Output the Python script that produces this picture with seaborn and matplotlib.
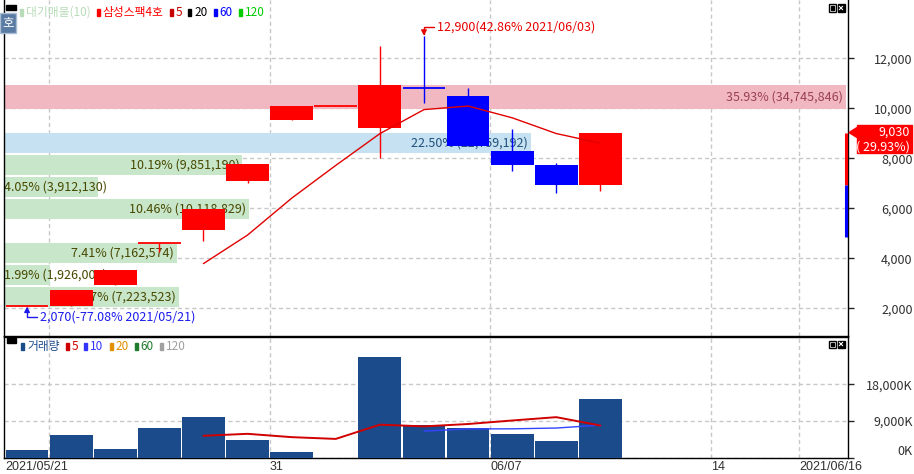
import numpy as np
import pandas as pd
import matplotlib.pyplot as plt
import matplotlib.patches as mpatches
import matplotlib.transforms as mtrans
import seaborn as sns

# 삼성스팩4호 일봉 (가격 단위: 원, 거래량 단위: 천주)
dates = ['2021/05/21', '2021/05/24', '2021/05/25', '2021/05/26', '2021/05/27', '2021/05/28',
         '2021/05/31', '2021/06/01', '2021/06/02', '2021/06/03', '2021/06/04', '2021/06/07',
         '2021/06/08', '2021/06/09']
opens = [2070, 2080, 2950, 4600, 5130, 7090, 9550, 10100, 9200, 10800, 10500, 8300, 7750, 6950]
highs = [2080, 2730, 3540, 4600, 5990, 7790, 10100, 10100, 12480, 12900, 10800, 9160, 7820, 9030]
lows = [2070, 2080, 2950, 4250, 4700, 7000, 9520, 10100, 8000, 10200, 8500, 7480, 6600, 6700]
closes = [2080, 2730, 3540, 4600, 5990, 7790, 10100, 10100, 10950, 10800, 8500, 7750, 6950, 9030]
volume_k = [1920, 5520, 2160, 7200, 10080, 4320, 1440, 0, 24650, 8010, 7200, 5760, 4080, 14400]
limit_down = 4870

# 대기매물 구간
band_low = [2070, 2950, 3830, 5590, 6470, 7350, 8230, 9990]
band_high = [2870, 3750, 4630, 6390, 7270, 8150, 9030, 10930]
band_pct = [7.47, 1.99, 7.41, 10.46, 4.05, 10.19, 22.50, 35.93]
band_vol = [7223523, 1926005, 7162574, 10118829, 3912130, 9851190, 21759192, 34745846]

# x축
tick_slots = [0, 6, 11, 16, 18]
tick_labels = ['2021/05/21', '31', '06/07', '14', '2021/06/16']
grid_slots = [1, 6, 11, 16, 18]

price_ticks = [2000, 4000, 6000, 8000, 10000, 12000]
vol_ticks = [0, 9000, 18000]

top_legend = [('대기매물(10)', '#b8dcb8'), ('삼성스팩4호', '#ff0000'), ('5', '#c80000'),
              ('20', '#000000'), ('60', '#0000ff'), ('120', '#00cc00')]
vol_legend = [('거래량', '#1c4b8c'), ('5', '#d00000'), ('10', '#3333ff'),
              ('20', '#e09000'), ('60', '#1e7c2c'), ('120', '#a0a0a0')]

sns.set_style('white')
plt.rcParams['font.family'] = ['Noto Sans CJK KR', 'DejaVu Sans']

W, H = 914, 474
RED, BLUE = '#ff0000', '#0000ff'
GRID = '#c8c8c8'
LBL = '#303030'


def fx(x):
    return x / W


def fy(y):
    return 1 - y / H


df = pd.DataFrame({'date': dates, 'open': opens, 'high': highs, 'low': lows,
                   'close': closes, 'vol': volume_k})
df['slot'] = np.arange(len(df))
df['ma5'] = df['close'].rolling(5).mean()
df['vma5'] = df['vol'].rolling(5).mean()
df['vma10'] = df['vol'].rolling(10).mean()
prev = df['close'].shift(1)
up = (df['close'] > df['open']) | ((df['close'] == df['open']) & ~(df['close'] < prev))
df['color'] = np.where(up, RED, BLUE)

fig = plt.figure(figsize=(W / 100, H / 100), dpi=100)
ax1 = fig.add_axes([fx(3.5), fy(336), (848 - 3.5) / W, 336 / H])
ax2 = fig.add_axes([fx(3.5), fy(458.3), (848 - 3.5) / W, (458.3 - 336.5) / H])

xl, xr = -0.534, 18.615

# ---- 가격 패널 ----
for s in grid_slots:
    ax1.axvline(s - 0.5, color=GRID, lw=1, ls=(0, (3, 2.2)), zorder=0)
for p in price_ticks:
    ax1.axhline(p, color=GRID, lw=1, ls=(0, (3, 2.2)), zorder=0)

# 대기매물 막대
order = np.argsort(band_pct)[::-1]
full = 19.1
for i in range(len(band_pct)):
    if i == order[0]:
        bc, tc = '#f2b8c2', '#9a4050'
    elif i == order[1]:
        bc, tc = '#c5e1f2', '#20507a'
    else:
        bc, tc = '#c8e6c9', '#474700'
    length = band_pct[i] / max(band_pct) * full
    mid = (band_low[i] + band_high[i]) / 2
    ax1.barh(mid, length, height=band_high[i] - band_low[i], left=xl, color=bc,
             zorder=1, linewidth=0)
    label = f'{band_pct[i]:.2f}% ({band_vol[i]:,})'
    if length * 44.1 < 110:
        ax1.text(xl + 0.02, mid, label, color=tc, fontsize=9, ha='left', va='center', zorder=2)
    else:
        ax1.text(xl + length - 0.07, mid, label, color=tc, fontsize=9, ha='right',
                 va='center', zorder=2)

# 캔들
for _, r in df.iterrows():
    ax1.vlines(r['slot'], r['low'], r['high'], color=r['color'], lw=1, zorder=2.5)
    if abs(r['close'] - r['open']) < 40:
        ax1.hlines(r['close'], r['slot'] - 0.485, r['slot'] + 0.485, color=r['color'],
                   lw=1.3, zorder=3)
    else:
        ax1.bar(r['slot'], abs(r['close'] - r['open']), bottom=min(r['open'], r['close']),
                width=0.97, color=r['color'], zorder=3, linewidth=0)

sns.lineplot(data=df, x='slot', y='ma5', color='#e00000', lw=1, ax=ax1, zorder=5)

# 최고/최저 표시
last = closes[-1]
prev_close = closes[-2]
hi_i = int(np.argmax(highs))
lo_i = int(np.argmin(lows))
hi_txt = f'{highs[hi_i]:,}({(highs[hi_i] - last) / last * 100:.2f}% {dates[hi_i]})'
lo_txt = f'{lows[lo_i]:,}({(lows[lo_i] - last) / last * 100:.2f}% {dates[lo_i]})'
conn = 'angle,angleA=0,angleB=90,rad=0'
ax1.annotate(hi_txt, xy=(hi_i, highs[hi_i]), xytext=(9.6, 6.6), textcoords='offset points',
             color='#e80000', fontsize=9, ha='left', va='center', zorder=6,
             arrowprops=dict(arrowstyle='-|>,head_length=0.35,head_width=0.18', color='#e80000',
                             lw=1, shrinkA=0, shrinkB=0, connectionstyle=conn, relpos=(0, 0.5)))
ax1.annotate(lo_txt, xy=(lo_i, lows[lo_i]), xytext=(9.4, -7.6), textcoords='offset points',
             color='#1a1aee', fontsize=9, ha='left', va='center', zorder=6,
             arrowprops=dict(arrowstyle='-|>,head_length=0.35,head_width=0.18', color='#1a1aee',
                             lw=1, shrinkA=0, shrinkB=0, connectionstyle=conn, relpos=(0, 0.5)))

ax1.set_xlim(xl, xr)
ax1.set_ylim(892, 14332)
ax1.set_xticks([])
ax1.set_xlabel('')
ax1.set_ylabel('')
ax1.yaxis.tick_right()
ax1.set_yticks(price_ticks, [f'{p:,}' for p in price_ticks])
ax1.tick_params(axis='y', right=True, left=False, labelright=True, labelleft=False,
                length=4, width=1, direction='out', pad=42.5, labelsize=9, labelcolor=LBL)
for t in ax1.get_yticklabels():
    t.set_ha('right')
for side in ['left', 'right', 'bottom']:
    ax1.spines[side].set_color('black')
    ax1.spines[side].set_linewidth(1)
ax1.spines['top'].set_visible(False)

# 상/하한 범위 막대
bt = mtrans.blended_transform_factory(ax1.transAxes, ax1.transData)
ax1.plot([0.9982, 0.9982], [prev_close, last], transform=bt, color=RED, lw=2.2,
         solid_capstyle='butt', clip_on=False, zorder=6)
ax1.plot([0.9982, 0.9982], [limit_down, prev_close], transform=bt, color=BLUE, lw=2.2,
         solid_capstyle='butt', clip_on=False, zorder=6)

# ---- 거래량 패널 ----
for s in grid_slots:
    ax2.axvline(s - 0.5, color=GRID, lw=1, ls=(0, (3, 2.2)), zorder=0)
for v in vol_ticks:
    ax2.axhline(v, color=GRID, lw=1, ls=(0, (3, 2.2)), zorder=0)

sns.barplot(data=df, x='slot', y='vol', native_scale=True, orient='x', width=0.97,
            color='#1c4b8c', saturation=1, errorbar=None, linewidth=0, ax=ax2, zorder=3)
sns.lineplot(data=df, x='slot', y='vma10', color='#3344ff', lw=1, ax=ax2, zorder=4)
sns.lineplot(data=df, x='slot', y='vma5', color='#d00000', lw=1.4, ax=ax2, zorder=5)

ax2.set_xlim(xl, xr)
ax2.set_ylim(-147, 29722)
ax2.set_xlabel('')
ax2.set_ylabel('')
ax2.set_xticks([s - 0.5 for s in tick_slots], tick_labels)
ax2.tick_params(axis='x', length=4, width=1, direction='out', pad=2.6, labelsize=9,
                labelcolor=LBL)
for t in ax2.get_xticklabels():
    t.set_ha('left')
    t.set_va('center')
    t.set_family('Liberation Sans')
ax2.yaxis.tick_right()
ax2.set_yticks(vol_ticks, [f'{v:,}K' for v in vol_ticks])
ax2.tick_params(axis='y', right=True, left=False, labelright=True, labelleft=False,
                length=4, width=1, direction='out', pad=42.5, labelsize=9, labelcolor=LBL)
for t in ax2.get_yticklabels():
    t.set_ha('right')
ax2.get_yticklabels()[0].set_va('bottom')
for side in ['left', 'right', 'bottom', 'top']:
    ax2.spines[side].set_color('black')
    ax2.spines[side].set_linewidth(1)

# ---- 범례 / 장식 ----
renderer = fig.canvas.get_renderer()


def legend_row(items, x, y, fs):
    for label, col in items:
        fig.add_artist(mpatches.Rectangle((fx(x), fy(y + 3.5)), 3 / W, 7 / H, color=col,
                                          transform=fig.transFigure))
        t = fig.text(fx(x + 6), fy(y), label, color=col, fontsize=fs, ha='left', va='center')
        x = t.get_window_extent(renderer=renderer).x1 + 6


def icons(y):
    fig.add_artist(mpatches.Rectangle((fx(828.5), fy(y + 7)), 7 / W, 7 / H, facecolor='white',
                                      edgecolor='black', lw=1, transform=fig.transFigure))
    fig.add_artist(mpatches.Rectangle((fx(830.5), fy(y + 5)), 3 / W, 3 / H, color='black',
                                      transform=fig.transFigure))
    fig.add_artist(mpatches.Rectangle((fx(837.5), fy(y + 7)), 7 / W, 7 / H, color='black',
                                      transform=fig.transFigure))
    fig.add_artist(plt.Line2D([fx(839.3), fx(842.7)], [fy(y + 1.8), fy(y + 5.2)], color='white',
                              lw=0.8, transform=fig.transFigure))
    fig.add_artist(plt.Line2D([fx(839.3), fx(842.7)], [fy(y + 5.2), fy(y + 1.8)], color='white',
                              lw=0.8, transform=fig.transFigure))


fig.add_artist(mpatches.Rectangle((fx(6), fy(10)), 10 / W, 5 / H, color='black',
                                  transform=fig.transFigure))
fig.add_artist(mpatches.Rectangle((fx(0), fy(33)), 16 / W, 20 / H, facecolor='#5a7ba3',
                                  edgecolor='#a8bcd4', lw=1, transform=fig.transFigure))
fig.text(fx(8), fy(23), '호', color='white', fontsize=9, ha='center', va='center')
legend_row(top_legend, 20, 12.5, 8.5)
icons(4.5)

fig.add_artist(mpatches.Rectangle((fx(7), fy(343)), 9 / W, 5 / H, color='black',
                                  transform=fig.transFigure))
legend_row(vol_legend, 21, 346.5, 8.5)
icons(340.5)

# 현재가 박스
py = H - ax1.transData.transform((0, last))[1]
fig.add_artist(mpatches.Rectangle((fx(857), fy(py + 20.5)), 55 / W, 28 / H, color=RED,
                                  transform=fig.transFigure, zorder=10))
fig.add_artist(mpatches.Polygon([(fx(849), fy(py)), (fx(857), fy(py - 5)), (fx(857), fy(py + 5))],
                                closed=True, color=RED, transform=fig.transFigure, zorder=10))
fig.text(fx(910), fy(py), f'{last:,}', color='white', fontsize=9, ha='right', va='center',
         zorder=11)
fig.text(fx(910), fy(py + 14), f'( {(last - prev_close) / prev_close * 100:.2f}%)', color='white',
         fontsize=9, ha='right', va='center', zorder=11)

fig.savefig('out.png', dpi=100)
